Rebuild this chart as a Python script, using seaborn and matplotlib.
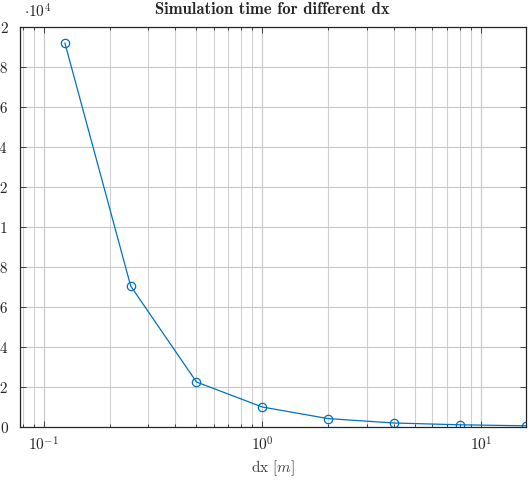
import numpy as np
import pandas as pd
import seaborn as sns
import matplotlib
matplotlib.use("Agg")
import matplotlib.pyplot as plt
from matplotlib.ticker import FuncFormatter, LogLocator

dx = [0.125, 0.25, 0.5, 1, 2, 4, 8, 16]
sim_time = [19200, 7050, 2250, 1000, 420, 200, 110, 60]
y_ticks = [0, 2000, 4000, 6000, 8000, 10000, 12000, 14000, 16000, 18000, 20000]

sns.set_theme(style="ticks")
plt.rcParams['font.family'] = ['cmr10', 'DejaVu Serif']
plt.rcParams['mathtext.fontset'] = 'cm'
plt.rcParams['axes.formatter.use_mathtext'] = True
plt.rcParams['axes.unicode_minus'] = False

blue = '#0072BD'
fig = plt.figure(figsize=(5.29, 4.81), dpi=100)
ax = fig.add_axes([19.5 / 529, 1 - 428 / 481, (525.5 - 19.5) / 529, 400 / 481])

df = pd.DataFrame({'dx': dx, 'time': sim_time})
sns.lineplot(data=df, x='dx', y='time', ax=ax, color=blue, linewidth=0.9,
             marker='o', markersize=6, markerfacecolor='none',
             markeredgecolor=blue, markeredgewidth=0.9)

ax.set_xscale('log')
ax.set_xlim(0.0775, 16)
ax.set_ylim(0, 20000)
ax.set_yticks(y_ticks)
ax.yaxis.set_major_formatter(FuncFormatter(lambda v, p: '%g' % (v / 1e4)))
ax.xaxis.set_minor_locator(LogLocator(base=10, subs=np.arange(2, 10), numticks=20))

ax.grid(True, which='major', axis='both', color='#c8c8c8', linewidth=0.8)
ax.grid(True, which='minor', axis='x', color='#d0d0d0', linewidth=0.8)
ax.set_axisbelow(True)

for s in ax.spines.values():
    s.set_color('#262626')
    s.set_linewidth(0.9)

ax.tick_params(axis='both', which='both', direction='in', top=True, right=True,
               colors='#262626', labelsize=11, width=0.6)
ax.tick_params(axis='both', which='major', length=4)
ax.tick_params(axis='x', which='minor', length=2.5)
ax.tick_params(axis='y', which='major', pad=8.5)
ax.tick_params(axis='x', which='major', pad=5)

ax.set_xlabel(r'dx $[m]$', fontsize=11, color='#404040', labelpad=4)
ax.set_ylabel('')
ax.set_title('Simulation time for different dx', fontsize=12, fontweight='bold',
             family=['cmb10', 'DejaVu Serif'], pad=10)
fig.text(24 / 529, 1 - 12 / 481, r'$\cdot 10^4$', fontsize=11, color='#262626',
         ha='left', va='center')

fig.savefig('out.png', dpi=100)
